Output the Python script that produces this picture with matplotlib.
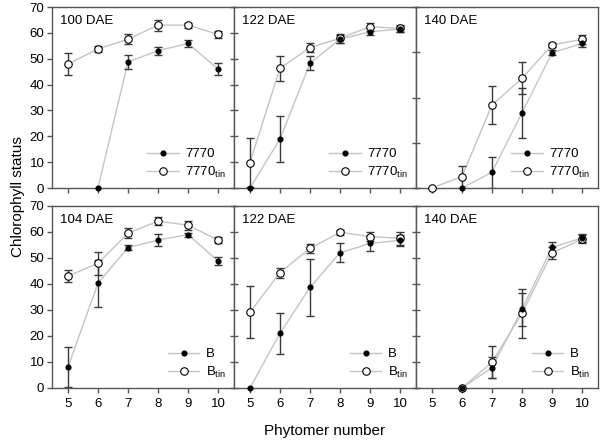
import numpy as np
import matplotlib
matplotlib.use('Agg')
import matplotlib.pyplot as plt
from matplotlib.lines import Line2D

plt.rcParams['font.family'] = ['Liberation Sans', 'DejaVu Sans']

phytomer = [5, 6, 7, 8, 9, 10]
nan = np.nan

# top row: line 7770, bottom row: line B
panel_titles = ['100 DAE', '122 DAE', '140 DAE', '104 DAE', '122 DAE', '140 DAE']
legend_names = [('7770', '7770$_{\\mathregular{tin}}$'), ('B', 'B$_{\\mathregular{tin}}$')]

# filled symbols (normal) and open symbols (tin)
normal_vals = [
    [nan, 0, 48.8, 53.1, 55.9, 46.0],
    [0, 18.9, 48.2, 57.6, 60.4, 61.5],
    [nan, 0, 6.1, 29.1, 52.3, 55.9],
    [8.0, 40.3, 54.0, 56.9, 59.0, 48.8],
    [0, 21.0, 38.7, 52.0, 55.6, 56.8],
    [nan, 0, 7.8, 30.3, 54.1, 57.7],
]
normal_err = [
    [0, 0, 2.8, 1.5, 1.3, 2.3],
    [0, 8.8, 2.7, 1.5, 1.3, 1.0],
    [0, 0, 6.0, 9.6, 1.0, 1.2],
    [7.7, 9.0, 1.0, 2.2, 0.8, 1.6],
    [0, 8.0, 10.9, 3.7, 3.0, 2.0],
    [0, 0, 4.0, 6.4, 2.0, 1.5],
]
tin_vals = [
    [47.9, 53.8, 57.5, 63.0, 63.0, 59.4],
    [9.8, 46.3, 54.3, 57.9, 62.4, 61.7],
    [0, 4.4, 32.1, 42.4, 55.3, 57.5],
    [43.0, 48.0, 59.5, 64.2, 62.6, 56.9],
    [29.1, 44.4, 53.7, 59.9, 58.2, 57.6],
    [nan, 0, 9.9, 28.7, 52.0, 57.2],
]
tin_err = [
    [4.2, 1.2, 1.9, 2.1, 1.0, 1.5],
    [9.4, 4.8, 1.7, 1.7, 1.5, 1.5],
    [0, 4.3, 7.2, 6.2, 0.8, 1.7],
    [2.3, 4.5, 1.9, 1.6, 1.7, 1.0],
    [10.0, 1.9, 1.8, 1.0, 1.7, 2.5],
    [0, 0, 6.2, 9.3, 2.4, 1.5],
]

line_col = '#c4c4c4'
err_col = '#3a3a3a'
spine_col = '#555555'

fig = plt.figure(figsize=(6.0, 4.42), dpi=100)
W, H = 600, 442
lefts = [52, 234, 416]
tops = [(7, 188), (206, 388)]

for i in range(6):
    row, col = divmod(i, 3)
    x0 = lefts[col]
    yt, yb = tops[row]
    ax = fig.add_axes([x0 / W, (H - yb) / H, 182 / W, (yb - yt) / H])

    x = np.array(phytomer, dtype=float)
    nv = np.array(normal_vals[i], dtype=float)
    ne = np.array(normal_err[i], dtype=float)
    tv = np.array(tin_vals[i], dtype=float)
    te = np.array(tin_err[i], dtype=float)

    ax.plot(x, nv, '-', color=line_col, lw=1.0, zorder=1)
    ax.plot(x, tv, '-', color=line_col, lw=1.0, zorder=1)
    m = ne > 0
    ax.errorbar(x[m], nv[m], yerr=ne[m], fmt='none', ecolor=err_col,
                elinewidth=1.0, capsize=3.2, capthick=1.0, zorder=2)
    m = te > 0
    ax.errorbar(x[m], tv[m], yerr=te[m], fmt='none', ecolor=err_col,
                elinewidth=1.0, capsize=3.2, capthick=1.0, zorder=2)
    ax.plot(x, nv, 'o', color='black', ms=3.4, zorder=4, clip_on=False)
    ax.plot(x, tv, 'o', mfc='white', mec='black', mew=0.8, ms=5.4, zorder=3,
            clip_on=False)

    ax.set_xlim(4.47, 10.53)
    ax.set_ylim(0, 70)
    ax.set_xticks(phytomer)
    if row == 1:
        ax.set_xticklabels([str(v) for v in phytomer], fontsize=9.5)
    else:
        ax.set_xticklabels([])

    if i == 2:
        ax.set_yticks([0, 17.5, 35, 52.5, 70])
    else:
        ax.set_yticks(range(0, 71, 10))
    if col == 0:
        ax.tick_params(axis='y', direction='out', length=3.5, width=1,
                       labelsize=9.5, pad=2, color=spine_col)
    else:
        ax.set_yticklabels([])
        ax.tick_params(axis='y', direction='inout', length=6, width=1,
                       color=spine_col)
    ax.tick_params(axis='x', direction='out', length=3.5, width=1, pad=4,
                   color=spine_col)

    for s in ax.spines.values():
        s.set_color(spine_col)
        s.set_linewidth(1.0)

    ax.text(0.045, 0.955, panel_titles[i], transform=ax.transAxes,
            fontsize=9.5, va='top', ha='left')

    n1, n2 = legend_names[row]
    handles = [
        Line2D([], [], color=line_col, lw=1.0, marker='o', mfc='black',
               mec='black', ms=3.4),
        Line2D([], [], color=line_col, lw=1.0, marker='o', mfc='white',
               mec='black', mew=0.8, ms=5.4),
    ]
    ax.legend(handles, [n1, n2], loc='lower right', frameon=False,
              fontsize=9.5, handlelength=2.4, handletextpad=0.5,
              labelspacing=0.35, borderaxespad=0.2)

fig.text(18 / W, (H - 197) / H, 'Chlorophyll status', rotation=90,
         ha='center', va='center', fontsize=11)
fig.text(325 / W, (H - 431) / H, 'Phytomer number', ha='center',
         va='center', fontsize=11)

fig.savefig('out.png', dpi=100)
